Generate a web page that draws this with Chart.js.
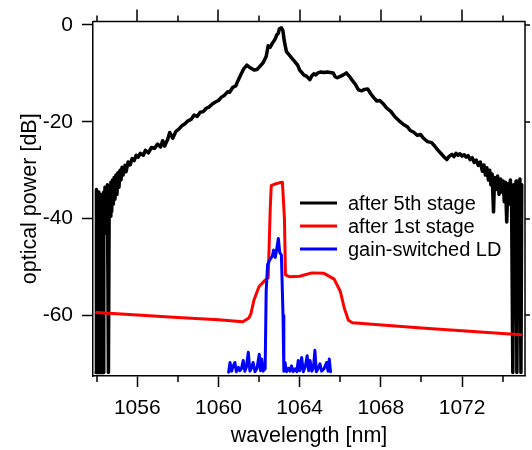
<!DOCTYPE html>
<html lang="en">
<head>
    <meta charset="UTF-8">
    <title>Optical spectrum</title>
    <script src="https://cdn.jsdelivr.net/npm/chart.js"></script>
    <style>
        body {
            margin: 0;
            background: #ffffff;
        }
        #wrap {
            width: 532px;
            height: 450px;
        }
    </style>
</head>
<body>
    <div id="wrap"><canvas id="spectrum" width="532" height="450"></canvas></div>

    <script>
        // ---- data ----
        const labels5th = 'after 5th stage';
        const labels1st = 'after 1st stage';
        const labelsLD = 'gain-switched LD';

        // after 5th stage (nm, dB)
        const stage5X = [
            1053.97, 1053.99, 1054.02, 1054.05, 1054.08, 1054.11, 1054.14, 1054.17, 1054.20, 1054.23,
            1054.26, 1054.29, 1054.32, 1054.35, 1054.38, 1054.41, 1054.44, 1054.47, 1054.50, 1054.53,
            1054.58, 1054.62, 1054.66, 1054.70, 1054.74, 1054.78, 1054.82, 1054.86, 1054.90, 1054.95,
            1055.00, 1055.05, 1055.10, 1055.15, 1055.20, 1055.25, 1055.30, 1055.40, 1055.45, 1055.55,
            1055.65, 1055.75, 1055.85, 1055.95,
            1056.05, 1056.15, 1056.30, 1056.40, 1056.55, 1056.70, 1056.85, 1057.00, 1057.15, 1057.25,
            1057.35, 1057.50, 1057.60, 1057.75, 1057.90, 1058.05, 1058.20, 1058.35, 1058.50, 1058.65,
            1058.80, 1058.95, 1059.10, 1059.25, 1059.40, 1059.55, 1059.70, 1059.85, 1060.00, 1060.15,
            1060.30, 1060.45, 1060.55, 1060.70, 1060.85, 1060.95, 1061.10, 1061.25, 1061.40, 1061.55,
            1061.75, 1061.90, 1062.05, 1062.20, 1062.35, 1062.45, 1062.55, 1062.65, 1062.78, 1062.88,
            1062.95, 1063.00, 1063.10, 1063.17, 1063.25, 1063.35, 1063.45, 1063.60, 1063.75, 1063.90,
            1064.00, 1064.10, 1064.20, 1064.35, 1064.50, 1064.60, 1064.70, 1064.80, 1064.90, 1065.05,
            1065.20, 1065.35, 1065.50, 1065.65, 1065.75, 1065.85, 1066.00, 1066.15, 1066.30, 1066.45,
            1066.60, 1066.75, 1066.90, 1067.05, 1067.20, 1067.35, 1067.50, 1067.65, 1067.80, 1067.95,
            1068.10, 1068.30, 1068.50, 1068.70, 1068.90, 1069.10, 1069.30, 1069.45, 1069.60, 1069.80,
            1069.95, 1070.10, 1070.30, 1070.50, 1070.65, 1070.80, 1070.95, 1071.10, 1071.25, 1071.35,
            1071.50, 1071.60, 1071.70, 1071.80, 1071.90, 1072.00, 1072.10, 1072.20, 1072.30, 1072.40,
            1072.50, 1072.60, 1072.70, 1072.80, 1072.90, 1073.00, 1073.08, 1073.15, 1073.22, 1073.30,
            1073.36, 1073.42, 1073.48, 1073.55, 1073.60, 1073.68, 1073.75, 1073.82, 1073.90, 1073.96,
            1074.02, 1074.08, 1074.14, 1074.20, 1074.26, 1074.32, 1074.38, 1074.44, 1074.50, 1074.55,
            1074.60, 1074.66, 1074.70, 1074.75, 1074.80, 1074.85, 1074.90, 1074.94
        ];
        const stage5Y = [
            -71.8, -34.0, -71.8, -35.5, -71.8, -34.5, -71.8, -36.0, -71.8, -35.0,
            -71.8, -37.0, -71.8, -34.5, -43.0, -33.5, -42.5, -34.0, -41.0, -33.0,
            -71.8, -34.0, -39.5, -32.5, -38.5, -32.0, -37.0, -31.5, -36.0, -31.0,
            -35.0, -30.5, -33.5, -30.0, -32.0, -29.4, -31.0, -29.0, -30.3, -28.3,
            -28.9, -27.6, -28.0, -26.9,
            -27.3, -26.5, -26.9, -25.9, -26.4, -25.3, -25.5, -24.6, -25.2, -23.9,
            -25.0, -23.6, -22.2, -23.4, -22.0, -21.5, -20.8, -20.4, -19.8, -19.5,
            -18.6, -18.9, -18.0, -17.9, -17.2, -16.9, -16.3, -15.9, -15.6, -14.9,
            -14.5, -13.8, -13.9, -12.9, -12.6, -11.6, -10.3, -9.0, -8.3, -8.8,
            -9.3, -9.2, -8.5, -7.8, -6.5, -4.3, -4.6, -3.8, -3.0, -2.0,
            -1.7, -0.8, -0.6, -1.1, -3.5, -5.5, -6.0, -6.8, -7.5, -8.3,
            -9.3, -9.8, -10.3, -10.6, -11.3, -10.5, -10.1, -10.3, -9.9, -9.7,
            -9.8, -9.7, -9.8, -9.9, -10.7, -10.9, -10.6, -10.3, -9.9, -10.6,
            -11.5, -12.3, -13.4, -13.6, -13.3, -13.2, -14.2, -15.0, -15.7, -15.6,
            -16.2, -17.2, -17.9, -19.0, -19.8, -20.5, -21.0, -21.8, -22.1, -22.8,
            -22.6, -23.4, -24.1, -24.3, -25.0, -25.8, -26.5, -27.2, -27.8, -27.2,
            -26.7, -27.2, -26.5, -26.9, -26.6, -27.1, -26.8, -27.3, -27.0, -27.8,
            -27.4, -28.4, -27.9, -29.0, -28.3, -30.2, -28.9, -31.0, -29.5, -32.0,
            -30.0, -33.0, -30.8, -38.6, -31.5, -34.0, -31.2, -35.0, -31.8, -34.5,
            -32.2, -36.5, -32.5, -40.7, -32.8, -37.0, -32.0, -36.5, -71.8, -33.0,
            -38.0, -32.2, -71.8, -32.5, -37.5, -31.8, -71.8, -33.0
        ];

        // after 1st stage
        const stage1X = [
            1054.0, 1056.0, 1058.0, 1060.0, 1061.2, 1061.5, 1061.6, 1061.75, 1062.0, 1062.3,
            1062.45, 1062.55, 1062.6, 1062.75, 1063.0, 1063.15, 1063.25, 1063.3, 1063.5, 1064.0,
            1064.6, 1065.2, 1065.7, 1066.0, 1066.2, 1066.4, 1066.6, 1070.0, 1074.9
        ];
        const stage1Y = [
            -59.4, -59.9, -60.4, -60.9, -61.3, -60.5, -59.6, -56.8, -54.0, -52.7,
            -52.2, -38.0, -33.2, -32.9, -32.6, -32.5, -40.0, -51.6, -52.0, -51.9,
            -51.2, -51.3, -52.5, -55.0, -58.5, -61.0, -61.5, -62.6, -64.0
        ];

        // gain-switched LD
        const ldX = [
            1060.50, 1060.57, 1060.65, 1060.72, 1060.81, 1060.88, 1060.98, 1061.05, 1061.13, 1061.22,
            1061.30, 1061.38, 1061.47, 1061.55, 1061.63, 1061.71, 1061.80, 1061.90, 1062.01, 1062.07,
            1062.13, 1062.20, 1062.30, 1062.35, 1062.42, 1062.54, 1062.65, 1062.72, 1062.80, 1062.88,
            1062.95, 1063.02, 1063.10, 1063.18, 1063.22, 1063.28, 1063.35, 1063.45, 1063.52, 1063.60,
            1063.68, 1063.78, 1063.86, 1063.93, 1064.00, 1064.10, 1064.18, 1064.28, 1064.37, 1064.44,
            1064.51, 1064.60, 1064.68, 1064.75, 1064.82, 1064.92, 1065.00, 1065.08, 1065.20, 1065.33,
            1065.40, 1065.46, 1065.52
        ];
        const ldY = [
            -71.7, -69.7, -71.5, -70.5, -69.7, -71.6, -70.7, -71.4, -71.0, -69.3,
            -71.5, -70.6, -67.6, -71.5, -70.8, -69.7, -71.6, -70.9, -68.0, -71.4,
            -69.0, -71.5, -71.0, -55.0, -49.5, -48.4, -47.8, -46.5, -48.0, -46.0,
            -44.1, -47.0, -47.5, -60.0, -71.5, -69.7, -71.6, -70.9, -71.5, -70.4,
            -71.6, -71.0, -71.6, -69.3, -71.4, -68.7, -71.6, -70.5, -68.3, -71.4,
            -69.3, -71.5, -70.8, -67.2, -71.6, -70.9, -70.0, -71.5, -71.0, -69.7,
            -71.5, -69.0, -71.6
        ];

        // axes
        const xMin = 1053.82, xMax = 1075.1;
        const yMin = -72.5, yMax = 0.7;
        const xLabelTicks = [1056, 1060, 1064, 1068, 1072];
        const xMinorTicks = [1054, 1058, 1062, 1066, 1070, 1074];
        const yLabelTicks = [-60, -40, -20, 0];

        const FONT = "'Liberation Sans', Arial, sans-serif";

        function toPoints(xs, ys) {
            return xs.map((x, i) => ({ x: x, y: ys[i] }));
        }

        // frame, mirror ticks and minor ticks
        const frameTicks = {
            id: 'frameTicks',
            afterDraw(chart) {
                const ctx = chart.ctx;
                const a = chart.chartArea;
                const xs = chart.scales.x, ys = chart.scales.y;
                ctx.save();
                ctx.strokeStyle = '#000';
                ctx.lineWidth = 1.5;
                ctx.beginPath();
                ctx.moveTo(a.left, a.top);
                ctx.lineTo(a.right, a.top);
                ctx.lineTo(a.right, a.bottom);
                ctx.stroke();

                ctx.beginPath();
                xLabelTicks.forEach(v => {
                    const px = Math.round(xs.getPixelForValue(v));
                    ctx.moveTo(px, a.top);
                    ctx.lineTo(px, a.top - 12);
                });
                xMinorTicks.forEach(v => {
                    const px = Math.round(xs.getPixelForValue(v));
                    ctx.moveTo(px, a.bottom);
                    ctx.lineTo(px, a.bottom + 6);
                    ctx.moveTo(px, a.top);
                    ctx.lineTo(px, a.top - 6);
                });
                yLabelTicks.forEach(v => {
                    const py = Math.round(ys.getPixelForValue(v));
                    ctx.moveTo(a.right, py);
                    ctx.lineTo(a.right + 5, py);
                });
                ctx.stroke();
                ctx.restore();
            }
        };

        // legend drawn inside the plot
        const innerLegend = {
            id: 'innerLegend',
            afterDraw(chart) {
                const ctx = chart.ctx;
                ctx.save();
                ctx.font = '20px ' + FONT;
                ctx.textBaseline = 'middle';
                ctx.fillStyle = '#000';
                chart.data.datasets.forEach((ds, i) => {
                    const y = 203 + i * 23;
                    ctx.strokeStyle = ds.borderColor;
                    ctx.lineWidth = 3;
                    ctx.beginPath();
                    ctx.moveTo(300, y);
                    ctx.lineTo(337, y);
                    ctx.stroke();
                    ctx.fillText(ds.label, 348, y + 1);
                });
                ctx.restore();
            }
        };

        const ctx = document.getElementById('spectrum').getContext('2d');
        new Chart(ctx, {
            type: 'line',
            data: {
                datasets: [
                    {
                        label: labels5th,
                        data: toPoints(stage5X, stage5Y),
                        borderColor: '#000000',
                        borderWidth: 3.5,
                        order: 3
                    },
                    {
                        label: labels1st,
                        data: toPoints(stage1X, stage1Y),
                        borderColor: '#ff0000',
                        borderWidth: 3,
                        order: 2
                    },
                    {
                        label: labelsLD,
                        data: toPoints(ldX, ldY),
                        borderColor: '#0000ff',
                        borderWidth: 3,
                        order: 1
                    }
                ]
            },
            options: {
                responsive: false,
                animation: false,
                devicePixelRatio: 1,
                layout: { padding: { top: 18, right: 7, left: 0, bottom: 0 } },
                elements: {
                    point: { radius: 0 },
                    line: { tension: 0, borderJoinStyle: 'round', borderCapStyle: 'round', fill: false }
                },
                plugins: {
                    legend: { display: false },
                    tooltip: { enabled: false }
                },
                scales: {
                    x: {
                        type: 'linear',
                        position: 'bottom',
                        min: xMin,
                        max: xMax,
                        afterBuildTicks: s => { s.ticks = xLabelTicks.map(v => ({ value: v })); },
                        afterFit: s => { s.height = 74; },
                        ticks: {
                            color: '#000',
                            padding: 9,
                            maxRotation: 0,
                            autoSkip: false,
                            font: { family: FONT, size: 21 },
                            callback: v => String(v)
                        },
                        grid: {
                            drawOnChartArea: false,
                            drawTicks: true,
                            tickLength: 11,
                            tickWidth: 1.5,
                            tickColor: '#000'
                        },
                        border: { display: true, color: '#000', width: 1.5 },
                        title: {
                            display: true,
                            text: 'wavelength [nm]',
                            color: '#000',
                            font: { family: FONT, size: 21.5 },
                            padding: { top: 0, bottom: 1 }
                        }
                    },
                    y: {
                        type: 'linear',
                        position: 'left',
                        min: yMin,
                        max: yMax,
                        afterBuildTicks: s => { s.ticks = yLabelTicks.map(v => ({ value: v })); },
                        afterFit: s => { s.width = 93; },
                        ticks: {
                            color: '#000',
                            padding: 9,
                            autoSkip: false,
                            font: { family: FONT, size: 21 },
                            callback: v => String(v)
                        },
                        grid: {
                            drawOnChartArea: false,
                            drawTicks: true,
                            tickLength: 11,
                            tickWidth: 1.5,
                            tickColor: '#000'
                        },
                        border: { display: true, color: '#000', width: 1.5 },
                        title: {
                            display: true,
                            text: 'optical power [dB]',
                            color: '#000',
                            font: { family: FONT, size: 21.5 },
                            padding: { top: 17, bottom: 0 }
                        }
                    }
                }
            },
            plugins: [frameTicks, innerLegend]
        });
    </script>
</body>
</html>
